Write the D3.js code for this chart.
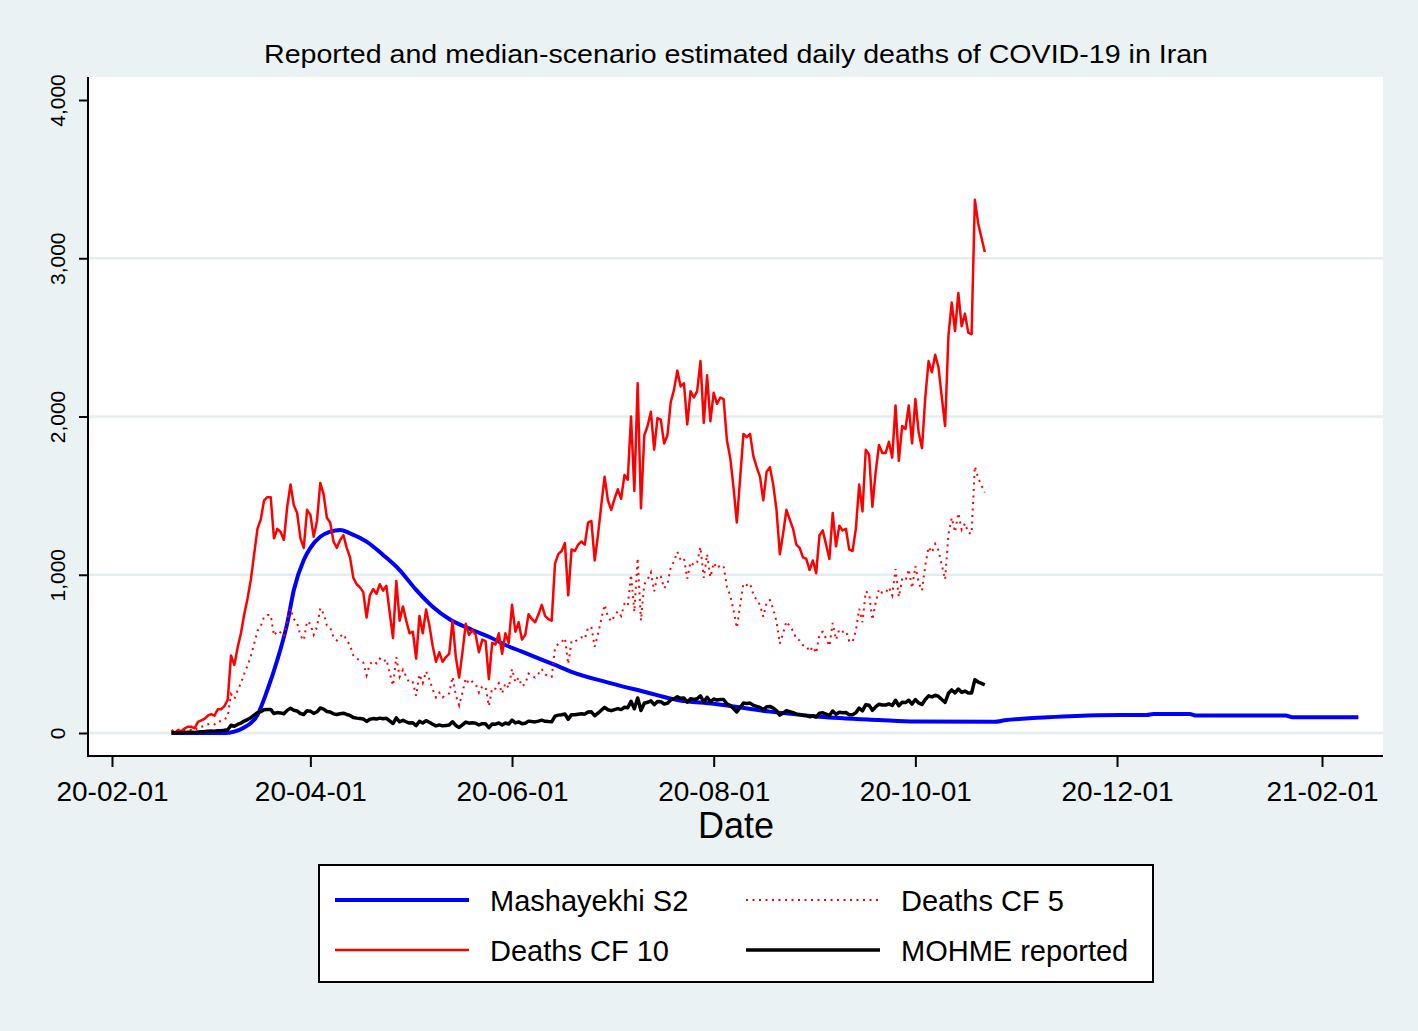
<!DOCTYPE html>
<html>
<head>
<meta charset="utf-8">
<script src="https://cdn.jsdelivr.net/npm/d3@7"></script>
<style>
  body { margin: 0; background: #EAF2F3; }
  text { font-family: "Liberation Sans", Arial, Helvetica, sans-serif; fill: #000; }
</style>
</head>
<body>
<script>
// daily series, 2020-02-19 .. 2020-10-22
var firstDay = "2020-02-19", lastDay = "2020-10-22";

var reported = [
  2, 0, 2, 1, 3, 4, 4, 3, 7, 8, 9,
  11, 12, 11, 15, 15, 17, 21, 49, 43, 54, 63, 75, 85, 97, 113, 129, 135, 147, 149, 149, 123, 129, 127, 122, 143, 157, 144, 139, 123, 117, 141,
  138, 124, 134, 158, 151, 136, 133, 121, 117, 122, 125, 117, 111, 98, 94, 92, 89, 73, 87, 91, 88, 94, 90, 93, 76, 60, 96, 71, 80, 71,
  63, 64, 47, 74, 63, 78, 68, 55, 45, 51, 45, 48, 50, 71, 48, 35, 51, 69, 62, 65, 62, 51, 59, 58, 34, 57, 56, 63, 50, 63, 57,
  81, 64, 70, 59, 62, 75, 72, 70, 75, 81, 74, 72, 71, 107, 113, 115, 120, 87, 116, 115, 119, 121, 119, 133, 134, 109, 125, 144, 162, 147,
  141, 148, 154, 148, 163, 160, 200, 153, 221, 142, 188, 194, 203, 179, 199, 198, 183, 188, 209, 217, 229, 219, 221, 195, 216, 212, 216, 235, 196, 226, 197,
  215, 208, 212, 211, 185, 174, 155, 133, 161, 189, 187, 189, 175, 168, 162, 147, 165, 168, 157, 141, 113, 126, 141, 135, 129, 119, 117, 111, 110, 103, 109,
  101, 125, 128, 119, 110, 139, 118, 131, 128, 129, 116, 115, 129, 157, 140, 179, 176, 143, 165, 182, 177, 177, 184, 174, 207, 172, 194, 192, 207, 183,
  211, 190, 180, 212, 235, 228, 239, 231, 212, 194, 251, 272, 254, 278, 257, 265, 253, 252, 337, 322, 313, 304
];

var deathsCF10 = [
  20, 0, 20, 10, 30, 40, 40, 30, 70, 80, 90,
  110, 120, 110, 150, 150, 170, 210, 490, 430, 540, 630, 750, 850, 970, 1130, 1290, 1350, 1470, 1490, 1490, 1230, 1290, 1270, 1220, 1430, 1570, 1440, 1390, 1230, 1170, 1410,
  1380, 1240, 1340, 1580, 1510, 1360, 1330, 1210, 1170, 1220, 1250, 1170, 1110, 980, 940, 920, 890, 730, 870, 910, 880, 940, 900, 930, 760, 600, 960, 710, 800, 710,
  630, 640, 470, 740, 630, 780, 680, 550, 450, 510, 450, 480, 500, 710, 480, 350, 510, 690, 620, 650, 620, 510, 590, 580, 340, 570, 560, 630, 500, 630, 570,
  810, 640, 700, 590, 620, 750, 720, 700, 750, 810, 740, 720, 710, 1070, 1130, 1150, 1200, 870, 1160, 1150, 1190, 1210, 1190, 1330, 1340, 1090, 1250, 1440, 1620, 1470,
  1410, 1480, 1540, 1480, 1630, 1600, 2000, 1530, 2210, 1420, 1880, 1940, 2030, 1790, 1990, 1980, 1830, 1880, 2090, 2170, 2290, 2190, 2210, 1950, 2160, 2120, 2160, 2350, 1960, 2260, 1970,
  2150, 2080, 2120, 2110, 1850, 1740, 1550, 1330, 1610, 1890, 1870, 1890, 1750, 1680, 1620, 1470, 1650, 1680, 1570, 1410, 1130, 1260, 1410, 1350, 1290, 1190, 1170, 1110, 1100, 1030, 1090,
  1010, 1250, 1280, 1190, 1100, 1390, 1180, 1310, 1280, 1290, 1160, 1150, 1290, 1570, 1400, 1790, 1760, 1430, 1650, 1820, 1770, 1770, 1840, 1740, 2070, 1720, 1940, 1920, 2070, 1830,
  2110, 1900, 1800, 2120, 2350, 2280, 2390, 2310, 2120, 1940, 2510, 2720, 2540, 2780, 2570, 2650, 2530, 2520, 3370, 3220, 3130, 3040
];

var deathsCF5 = [
  10, 0, 10, 5, 15, 20, 20, 15, 35, 40, 45,
  55, 60, 55, 75, 75, 85, 105, 245, 215, 270, 315, 375, 425, 485, 565, 645, 675, 735, 745, 745, 615, 645, 635, 610, 715, 785, 720, 695, 615, 585, 705,
  690, 620, 670, 790, 755, 680, 665, 605, 585, 610, 625, 585, 555, 490, 470, 460, 445, 365, 435, 455, 440, 470, 450, 465, 380, 300, 480, 355, 400, 355,
  315, 320, 235, 370, 315, 390, 340, 275, 225, 255, 225, 240, 250, 355, 240, 175, 255, 345, 310, 325, 310, 255, 295, 290, 170, 285, 280, 315, 250, 315, 285,
  405, 320, 350, 295, 310, 375, 360, 350, 375, 405, 370, 360, 355, 535, 565, 575, 600, 435, 580, 575, 595, 605, 595, 665, 670, 545, 625, 720, 810, 735,
  705, 740, 770, 740, 815, 800, 1000, 765, 1105, 710, 940, 970, 1015, 895, 995, 990, 915, 940, 1045, 1085, 1145, 1095, 1105, 975, 1080, 1060, 1080, 1175, 980, 1130, 985,
  1075, 1040, 1060, 1055, 925, 870, 775, 665, 805, 945, 935, 945, 875, 840, 810, 735, 825, 840, 785, 705, 565, 630, 705, 675, 645, 595, 585, 555, 550, 515, 545,
  505, 625, 640, 595, 550, 695, 590, 655, 640, 645, 580, 575, 645, 785, 700, 895, 880, 715, 825, 910, 885, 885, 920, 870, 1035, 860, 970, 960, 1035, 915,
  1055, 950, 900, 1060, 1175, 1140, 1195, 1155, 1060, 970, 1255, 1360, 1270, 1390, 1285, 1325, 1265, 1260, 1685, 1610, 1565, 1520
];

// Mashayekhi S2 scenario (smooth curve)
var s2Dates = ["2020-02-19", "2020-03-06", "2020-03-12", "2020-03-16", "2020-03-19", "2020-03-22", "2020-03-25",
  "2020-03-27", "2020-03-30", "2020-04-01", "2020-04-04", "2020-04-07", "2020-04-10", "2020-04-13", "2020-04-18",
  "2020-04-23", "2020-04-28", "2020-05-03", "2020-05-08", "2020-05-13", "2020-05-20", "2020-05-25", "2020-05-30",
  "2020-06-04", "2020-06-09", "2020-06-14", "2020-06-19", "2020-07-01", "2020-07-11", "2020-07-21", "2020-08-01",
  "2020-08-18", "2020-09-02", "2020-09-20", "2020-10-01", "2020-10-25", "2020-10-28", "2020-11-10", "2020-11-25",
  "2020-12-10", "2020-12-12", "2020-12-23", "2020-12-25", "2021-01-21", "2021-01-23", "2021-02-12"];
var s2Values = [0, 0, 35, 114, 272, 461, 693,
  904, 1093, 1170, 1240, 1272, 1283, 1262, 1209,
  1125, 1030, 904, 798, 720, 651, 608, 556,
  514, 472, 430, 387, 314, 261, 208, 185,
  135, 103, 82, 72, 71, 80, 99, 112,
  114, 120, 120, 110, 110, 100, 100];

var xTickDates = ["2020-02-01", "2020-04-01", "2020-06-01", "2020-08-01", "2020-10-01", "2020-12-01", "2021-02-01"];
var yTickValues = [0, 1000, 2000, 3000, 4000];
var gridValues = [0, 1000, 2000, 3000];

var legendLabels = ["Mashayekhi S2", "Deaths CF 5", "Deaths CF 10", "MOHME reported"];

var parse = d3.utcParse("%Y-%m-%d");

var W = 1418, H = 1031;
var plot = { left: 88, right: 1383, top: 77, bottom: 756 };

var svg = d3.select("body")
    .append("svg")
    .attr("width", W)
    .attr("height", H);

svg.append("rect")
    .attr("width", W)
    .attr("height", H)
    .attr("fill", "#EAF2F3");

svg.append("rect")
    .attr("x", plot.left)
    .attr("y", plot.top)
    .attr("width", plot.right - plot.left)
    .attr("height", plot.bottom - plot.top)
    .attr("fill", "#fff");

var x = d3.scaleUtc()
    .domain([parse("2020-02-01"), parse("2021-02-01")])
    .range([112, 1322]);

var y = d3.scaleLinear()
    .domain([0, 4000])
    .range([733, 100]);

// grid
svg.append("g")
    .selectAll("line")
    .data(gridValues)
    .enter()
    .append("line")
    .attr("x1", plot.left)
    .attr("x2", plot.right)
    .attr("y1", function (d) { return y(d); })
    .attr("y2", function (d) { return y(d); })
    .attr("stroke", "#E4EDEF")
    .attr("stroke-width", 2.5);

// y axis
var yAxis = svg.append("g")
    .attr("transform", "translate(" + plot.left + ",0)")
    .call(d3.axisLeft(y).tickValues(yTickValues).tickSize(9).tickFormat(d3.format(",")));
yAxis.select(".domain").remove();
yAxis.selectAll(".tick line").attr("stroke", "#000").attr("stroke-width", 2);
yAxis.selectAll(".tick text")
    .attr("x", null).attr("dy", null)
    .attr("transform", "translate(-23,0) rotate(-90)")
    .attr("text-anchor", "middle")
    .style("font-size", "21px");

// x axis
var xAxis = svg.append("g")
    .attr("transform", "translate(0," + plot.bottom + ")")
    .call(d3.axisBottom(x).tickValues(xTickDates.map(parse)).tickSize(11).tickFormat(d3.utcFormat("%y-%m-%d")));
xAxis.select(".domain").remove();
xAxis.selectAll(".tick line").attr("stroke", "#000").attr("stroke-width", 2);
xAxis.selectAll(".tick text")
    .attr("y", 45).attr("dy", null)
    .style("font-size", "28px");

// axis lines
svg.append("line")
    .attr("x1", plot.left).attr("x2", plot.left)
    .attr("y1", plot.top).attr("y2", plot.bottom + 1)
    .attr("stroke", "#000").attr("stroke-width", 2);
svg.append("line")
    .attr("x1", plot.left - 1).attr("x2", plot.right)
    .attr("y1", plot.bottom).attr("y2", plot.bottom)
    .attr("stroke", "#000").attr("stroke-width", 2);

// series
var days = d3.utcDay.range(parse(firstDay), d3.utcDay.offset(parse(lastDay), 1));

var dailyLine = d3.line()
    .x(function (d, i) { return x(days[i]); })
    .y(function (d) { return y(d); });

svg.append("path")
    .datum(s2Values)
    .attr("fill", "none")
    .attr("stroke", "#0000FF")
    .attr("stroke-width", 4)
    .attr("d", d3.line()
        .curve(d3.curveMonotoneX)
        .x(function (d, i) { return x(parse(s2Dates[i])); })
        .y(function (d) { return y(d); }));

svg.append("path")
    .datum(deathsCF10)
    .attr("fill", "none")
    .attr("stroke", "#FF0000")
    .attr("stroke-width", 2.5)
    .attr("stroke-linejoin", "round")
    .attr("d", dailyLine);

svg.append("path")
    .datum(deathsCF5)
    .attr("fill", "none")
    .attr("stroke", "#FF0000")
    .attr("stroke-width", 2)
    .attr("stroke-dasharray", "2,4.5")
    .attr("d", dailyLine);

svg.append("path")
    .datum(reported)
    .attr("fill", "none")
    .attr("stroke", "#000")
    .attr("stroke-width", 3.5)
    .attr("stroke-linejoin", "round")
    .attr("d", dailyLine);

// title
svg.append("text")
    .attr("x", 736)
    .attr("y", 63)
    .attr("text-anchor", "middle")
    .attr("textLength", 944)
    .attr("lengthAdjust", "spacingAndGlyphs")
    .style("font-size", "26px")
    .text("Reported and median-scenario estimated daily deaths of COVID-19 in Iran");

// x label
svg.append("text")
    .attr("x", 736)
    .attr("y", 838)
    .attr("text-anchor", "middle")
    .style("font-size", "36px")
    .text("Date");

// legend
var legend = svg.append("g");
legend.append("rect")
    .attr("x", 319).attr("y", 865)
    .attr("width", 834).attr("height", 117)
    .attr("fill", "#fff")
    .attr("stroke", "#000")
    .attr("stroke-width", 2);

var legendItems = [
  { label: legendLabels[0], col: 0, row: 0, color: "#0000FF", width: 4, dash: null },
  { label: legendLabels[1], col: 1, row: 0, color: "#FF0000", width: 2, dash: "2,4.5" },
  { label: legendLabels[2], col: 0, row: 1, color: "#FF0000", width: 2.5, dash: null },
  { label: legendLabels[3], col: 1, row: 1, color: "#000", width: 3.5, dash: null }
];

var item = legend.selectAll(".item")
    .data(legendItems)
    .enter()
    .append("g")
    .attr("transform", function (d) {
        return "translate(" + (335 + d.col * 411) + "," + (900 + d.row * 50) + ")";
    });

item.append("line")
    .attr("x1", 0).attr("x2", 134)
    .attr("stroke", function (d) { return d.color; })
    .attr("stroke-width", function (d) { return d.width; })
    .attr("stroke-dasharray", function (d) { return d.dash; });

item.append("text")
    .attr("x", 155)
    .attr("y", 11)
    .style("font-size", "29px")
    .text(function (d) { return d.label; });
</script>
</body>
</html>
